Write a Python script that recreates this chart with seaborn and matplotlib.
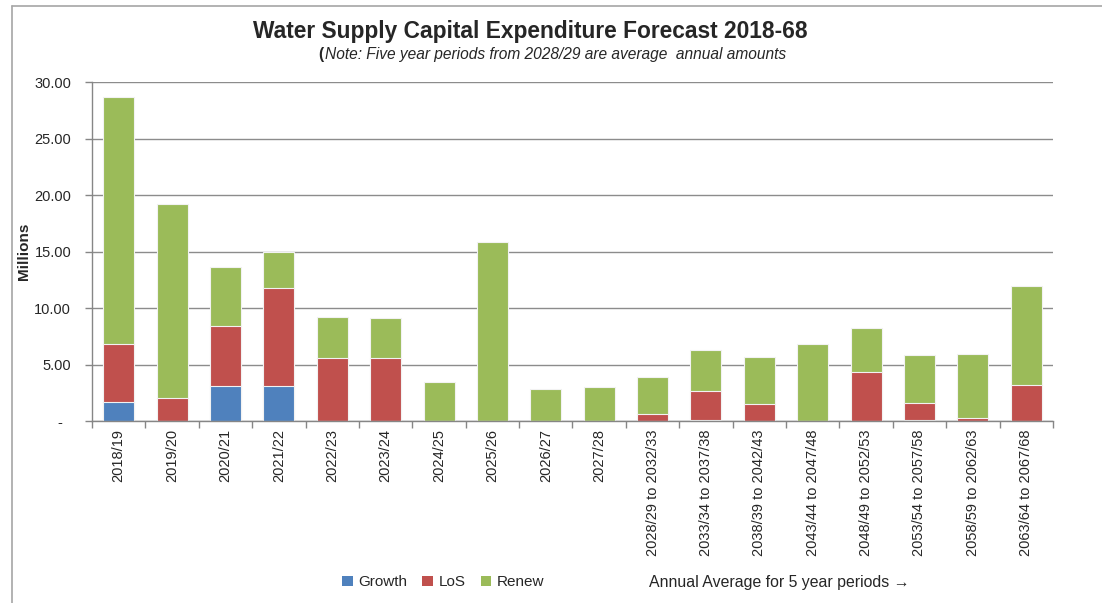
import matplotlib
matplotlib.use("Agg")
import matplotlib.pyplot as plt
from matplotlib.patches import Patch
from matplotlib.lines import Line2D
import numpy as np
import pandas as pd
import seaborn as sns

# Capital expenditure per period, $ millions
periods = ["2018/19", "2019/20", "2020/21", "2021/22", "2022/23", "2023/24",
           "2024/25", "2025/26", "2026/27", "2027/28",
           "2028/29 to 2032/33", "2033/34 to 2037/38", "2038/39 to 2042/43",
           "2043/44 to 2047/48", "2048/49 to 2052/53", "2053/54 to 2057/58",
           "2058/59 to 2062/63", "2063/64 to 2067/68"]
growth = [1.72, 0.00, 3.13, 3.13, 0.00, 0.00, 0.00, 0.00, 0.00, 0.00,
          0.00, 0.13, 0.00, 0.00, 0.00, 0.13, 0.00, 0.00]
los = [5.09, 2.07, 5.27, 8.66, 5.57, 5.57, 0.00, 0.00, 0.00, 0.00,
       0.60, 2.53, 1.51, 0.00, 4.34, 1.47, 0.28, 3.22]
renew = [21.88, 17.17, 5.19, 3.21, 3.60, 3.51, 3.43, 15.88, 2.87, 2.98,
         3.30, 3.59, 4.18, 6.81, 3.88, 4.27, 5.68, 8.71]
series_names = ["Growth", "LoS", "Renew"]
y_ticks = [0, 5, 10, 15, 20, 25, 30]
y_tick_labels = ["-  ", "5.00", "10.00", "15.00", "20.00", "25.00", "30.00"]

colors = {"Growth": "#4F81BD", "LoS": "#C0504D", "Renew": "#9BBB59"}

df = pd.DataFrame({"period": periods, "Growth": growth, "LoS": los, "Renew": renew})
df["cum_growth"] = df["Growth"]
df["cum_los"] = df["Growth"] + df["LoS"]
df["cum_renew"] = df["cum_los"] + df["Renew"]

sns.set_style("white")
plt.rcParams["font.family"] = ["Liberation Sans", "DejaVu Sans"]

fig = plt.figure(figsize=(11.02, 6.03), dpi=100)
ax = fig.add_axes([0.0835, 0.3018, 0.8720, 0.5622])

# Stacked bars: draw cumulative totals back to front
bar_kw = dict(width=0.58, saturation=1, edgecolor="#f2f2f2", linewidth=0.8, ax=ax, zorder=3)
sns.barplot(data=df, x="period", y="cum_renew", color=colors["Renew"], **bar_kw)
sns.barplot(data=df, x="period", y="cum_los", color=colors["LoS"], **bar_kw)
sns.barplot(data=df, x="period", y="cum_growth", color=colors["Growth"], **bar_kw)

n = len(periods)
ax.set_xlim(-0.5, n - 0.5)
ax.set_ylim(0, 30)
ax.set_yticks(y_ticks)
ax.set_yticklabels(y_tick_labels, fontsize=10.5)
ax.set_xticks(range(n))
ax.set_xticklabels(periods, rotation=90, fontsize=10.5)
ax.tick_params(axis="x", which="major", bottom=True, length=0, pad=6)
ax.set_xticks(np.arange(-0.5, n, 1.0), minor=True)
ax.tick_params(axis="x", which="minor", bottom=True, length=5, width=1,
               color="#868686", direction="out")
ax.tick_params(axis="y", which="major", left=True, length=5, width=1,
               color="#868686", direction="out", pad=10)

ax.yaxis.grid(True, color="#8c8c8c", linewidth=1.0, zorder=0)
ax.set_axisbelow(True)
for side in ["top", "right"]:
    ax.spines[side].set_visible(False)
for side in ["left", "bottom"]:
    ax.spines[side].set_color("#868686")
    ax.spines[side].set_linewidth(1.0)
    ax.spines[side].set_zorder(4)

ax.set_xlabel("")
ax.set_ylabel("Millions", fontsize=11, fontweight="bold")
ax.yaxis.set_label_coords(-0.064, 0.5)

# Titles
fig.text(0.481, 0.947, "Water Supply Capital Expenditure Forecast 2018-68",
         ha="center", va="center", fontsize=16.4, fontweight="bold")
fig.text(0.2885, 0.909, "(", ha="left", va="center", fontsize=11.2, fontweight="bold")
fig.text(0.295, 0.909, "Note: Five year periods from 2028/29 are average  annual amounts",
         ha="left", va="center", fontsize=11.2, style="italic")

# Legend
handles = [Patch(facecolor=colors[s], edgecolor="none", label=s) for s in series_names]
fig.legend(handles=handles, loc="center", bbox_to_anchor=(0.402, 0.034), ncol=3,
           frameon=False, fontsize=11, handlelength=0.7, handleheight=0.7,
           handletextpad=0.35, columnspacing=1.0)
fig.text(0.589, 0.034, "Annual Average for 5 year periods \u2192", ha="left", va="center",
         fontsize=11.4)

# Chart area frame
fig.add_artist(Line2D([11.5 / 1102, 11.5 / 1102], [0, 1 - 5.5 / 603],
                      transform=fig.transFigure, color="#a6a6a6", linewidth=1.2))
fig.add_artist(Line2D([11.5 / 1102, 1.0], [1 - 5.5 / 603, 1 - 5.5 / 603],
                      transform=fig.transFigure, color="#a6a6a6", linewidth=1.2))

fig.savefig("out.png", dpi=100, facecolor="white")
